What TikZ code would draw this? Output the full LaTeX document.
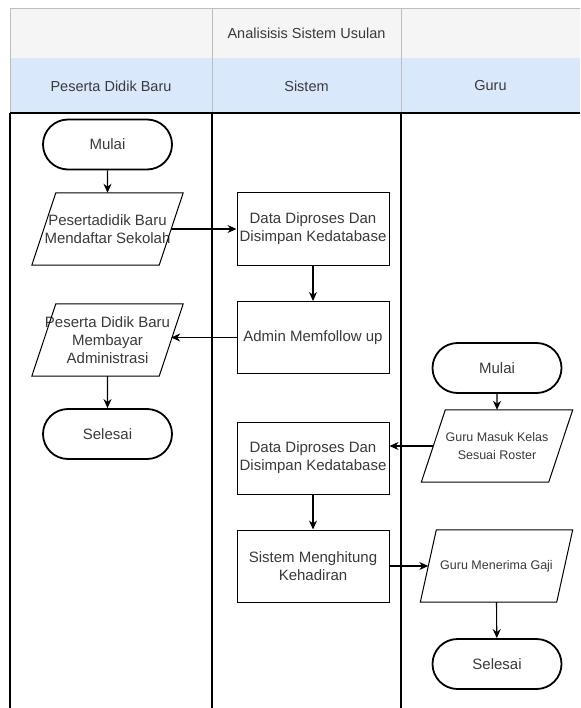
\documentclass[tikz,border=0pt]{standalone}
\usepackage{fontspec}
\setmainfont{Liberation Sans}
\usetikzlibrary{arrows.meta,shapes.misc}

\definecolor{hdrgray}{HTML}{F5F5F5}
\definecolor{hdrblue}{HTML}{DAE8FC}
\definecolor{hdrline}{HTML}{BDBDBD}
\definecolor{txt}{HTML}{3A3A3A}

\tikzset{
  basetext/.style={text=txt, font=\fontsize{15}{18}\selectfont, align=center, inner sep=0pt},
  term/.style={basetext, rounded rectangle, draw=black, line width=1.8pt,
    minimum width=129pt, minimum height=50pt},
  proc/.style={basetext, rectangle, draw=black, line width=1pt,
    minimum width=152pt, minimum height=72pt},
  slantbox/.style={basetext, rectangle, minimum width=127pt, minimum height=72pt},
  small/.style={font=\fontsize{12.5}{18}\selectfont},
  outline/.style={draw=black, line width=1pt, line join=miter},
  flow/.style={draw=black, line width=1.1pt, -{Stealth[length=9pt,width=8pt]}},
  lane/.style={draw=black, line width=1.1pt},
  hdr/.style={draw=hdrline, line width=0.8pt},
  hdrtext/.style={text=txt, font=\fontsize{14.5}{17}\selectfont, inner sep=0pt}
}

% parallelogram outline around a named node, #2 = half of the horizontal slant
\newcommand\slantoutline[2]{%
  \draw[outline] ([xshift=#2pt]#1.north west) -- ([xshift=#2pt]#1.north east)
    -- ([xshift=-#2pt]#1.south east) -- ([xshift=-#2pt]#1.south west) -- cycle;}

\begin{document}
\begin{tikzpicture}[x=1pt,y=-1pt]
\useasboundingbox (0,0) rectangle (580,708);
\fill[white] (0,0) rectangle (580,708);

% header band
\fill[hdrgray] (10,8) rectangle (580,58);
\fill[hdrblue] (10,58) rectangle (580,113);
\draw[hdr] (580,8) -- (10,8) -- (10,113);
\draw[hdr] (212,8) -- (212,113);
\draw[hdr] (401,8) -- (401,113);

\node[hdrtext] (title) at (306.5,33) {Analisisis Sistem Usulan};
\node[hdrtext] (lane1) at (111,86) {Peserta Didik Baru};
\node[hdrtext] (lane2) at (306.5,86) {Sistem};
\node[hdrtext] (lane3) at (490.5,86) {Guru};

% swimlane body
\draw[lane] (10,113) -- (580,113);
\draw[lane] (10,113) -- (10,708);
\draw[lane] (212,113) -- (212,708);
\draw[lane] (401,113) -- (401,708);

% Peserta Didik Baru lane
\node[term] (m1) at (107.5,144.5) {Mulai};
\node[slantbox] (p1) at (107.5,229) {Pesertadidik Baru\\Mendaftar Sekolah};
\slantoutline{p1}{12}
\node[slantbox] (p2) at (107.5,340) {Peserta Didik Baru\\Membayar\\Administrasi};
\slantoutline{p2}{12}
\node[term] (s1) at (107.5,434) {Selesai};

% Sistem lane
\node[proc] (d1) at (313,229) {Data Diproses Dan\\Disimpan Kedatabase};
\node[proc] (a1) at (313,337.5) {Admin Memfollow up};
\node[proc] (d2) at (313,458) {Data Diproses Dan\\Disimpan Kedatabase};
\node[proc] (h1) at (313,566) {Sistem Menghitung\\Kehadiran};

% Guru lane
\node[term] (m2) at (497,368) {Mulai};
\node[slantbox, small] (g1) at (497,446) {Guru Masuk Kelas\\Sesuai Roster};
\slantoutline{g1}{12}
\node[slantbox, small, minimum width=136pt] (g2) at (496.5,566) {Guru Menerima Gaji};
\slantoutline{g2}{8}
\node[term] (s2) at (497,664) {Selesai};

% connectors
\draw[flow] (m1) -- (p1.north);
\draw[flow] (p1.east) -- (d1.west);
\draw[flow] (d1) -- (a1);
\draw[flow] (a1.west) -- (a1.west -| p2.east);
\draw[flow] (p2.south) -- (s1);
\draw[flow] (m2) -- (g1.north);
\draw[flow] (g1.west) -- (g1.west -| d2.east);
\draw[flow] (d2) -- (h1);
\draw[flow] (h1.east) -- (g2.west);
\draw[flow] (g2.south) -- (s2);
\end{tikzpicture}
\end{document}
